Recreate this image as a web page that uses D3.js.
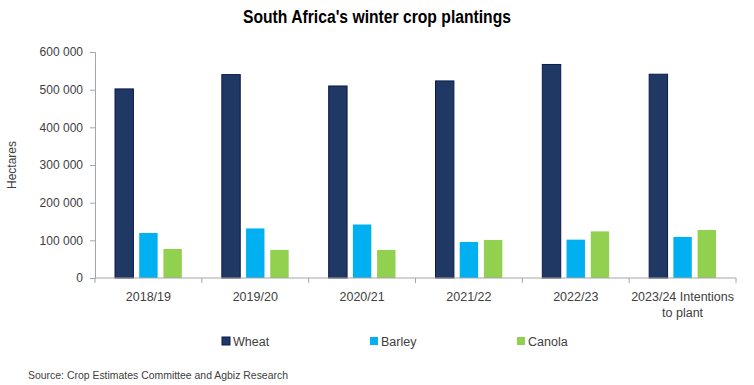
<!DOCTYPE html>
<html>
<head>
<meta charset="utf-8">
<script src="https://cdn.jsdelivr.net/npm/d3@7"></script>
<style>
  body { margin: 0; background: #fff; }
  text { font-family: "Liberation Sans", Arial, sans-serif; fill: #404040; }
</style>
</head>
<body>
<script>
// winter crop plantings, hectares
const seasons = ["2018/19", "2019/20", "2020/21", "2021/22", "2022/23", "2023/24 Intentions to plant"];
const crops = ["Wheat", "Barley", "Canola"];
const wheat = [502000, 540000, 509800, 523200, 566900, 541000];
const barley = [119500, 131600, 142000, 95700, 101800, 109000];
const canola = [77000, 74500, 74500, 101000, 123700, 127400];
const yTicks = [0, 100000, 200000, 300000, 400000, 500000, 600000];
const colors = ["#1f3864", "#00b0f0", "#92d050"];

const width = 754, height = 385;
const margin = {top: 52, right: 18, bottom: 107, left: 95};

const svg = d3.select("body").append("svg").attr("width", width).attr("height", height);

const x0 = d3.scaleBand().domain(seasons).range([margin.left, width - margin.right]);
const x1 = d3.scaleBand().domain(crops).range([20, x0.bandwidth() - 20]).paddingInner(0.24);
const y = d3.scaleLinear().domain([0, 600000]).range([height - margin.bottom, margin.top]);

const fmt = d => d3.format(",")(d).replace(/,/g, " ");

// title (narrow look)
svg.append("text")
  .attr("x", width / 2 - 134).attr("y", 23)
  .attr("textLength", 268).attr("lengthAdjust", "spacingAndGlyphs")
  .style("font-weight", "bold").style("font-size", "18px").style("fill", "#000")
  .text("South Africa's winter crop plantings");

// y axis
const yAxis = svg.append("g")
  .attr("transform", "translate(" + margin.left + ",0)")
  .call(d3.axisLeft(y).tickValues(yTicks).tickFormat(fmt).tickSize(5).tickPadding(7));
yAxis.selectAll("path, line").attr("stroke", "#a6a6a6");
yAxis.selectAll("text").style("font-size", "12px").style("fill", "#404040");

svg.append("text")
  .attr("transform", "translate(16," + (margin.top + (height - margin.bottom - margin.top) / 2) + ") rotate(-90)")
  .attr("text-anchor", "middle")
  .style("font-size", "12px")
  .text("Hectares");

// bars
const series = [wheat, barley, canola];
const groups = svg.append("g").selectAll("g")
  .data(seasons)
  .enter()
  .append("g")
  .attr("transform", d => "translate(" + x0(d) + ",0)");

groups.selectAll("rect")
  .data((d, i) => crops.map((c, j) => ({crop: c, value: series[j][i], k: j})))
  .enter()
  .append("rect")
  .attr("x", d => x1(d.crop))
  .attr("y", d => y(d.value))
  .attr("width", x1.bandwidth())
  .attr("height", d => y(0) - y(d.value))
  .attr("fill", d => colors[d.k])
  .attr("stroke", d => d.k == 0 ? "#0b1a4e" : "none")
  .attr("stroke-width", 1);

// x axis
const xAxis = svg.append("g")
  .attr("transform", "translate(0," + y(0) + ")");
xAxis.append("line")
  .attr("x1", margin.left).attr("x2", width - margin.right)
  .attr("stroke", "#a6a6a6");
const bounds = seasons.map(s => x0(s)).concat([x0(seasons[seasons.length - 1]) + x0.bandwidth()]);
xAxis.selectAll("line.tick")
  .data(bounds)
  .enter()
  .append("line")
  .attr("class", "tick")
  .attr("x1", d => d).attr("x2", d => d)
  .attr("y1", 0).attr("y2", 5)
  .attr("stroke", "#a6a6a6");

xAxis.selectAll("text")
  .data(seasons)
  .enter()
  .append("text")
  .attr("x", d => x0(d) + x0.bandwidth() / 2)
  .attr("y", 23)
  .attr("text-anchor", "middle")
  .style("font-size", "12.5px")
  .each(function(d) {
    const t = d3.select(this);
    if (d.indexOf("Intentions") > 0) {
      t.append("tspan").attr("x", x0(d) + x0.bandwidth() / 2).text("2023/24 Intentions");
      t.append("tspan").attr("x", x0(d) + x0.bandwidth() / 2).attr("dy", 16).text("to plant");
    } else {
      t.text(d);
    }
  });

// legend
const legendX = [222, 370, 517];
const legend = svg.append("g").selectAll("g")
  .data(crops)
  .enter()
  .append("g")
  .attr("transform", (d, i) => "translate(" + legendX[i] + ",341)");
legend.append("rect")
  .attr("x", 0).attr("y", -4).attr("width", 8).attr("height", 8)
  .attr("fill", (d, i) => colors[i])
  .attr("stroke", (d, i) => i == 0 ? "#0b1a4e" : "none");
legend.append("text")
  .attr("x", 11).attr("y", 4.5)
  .style("font-size", "12.5px")
  .text(d => d);

// source
svg.append("text")
  .attr("x", 28).attr("y", 379)
  .attr("textLength", 260).attr("lengthAdjust", "spacingAndGlyphs")
  .style("font-size", "11.5px")
  .text("Source: Crop Estimates Committee and Agbiz Research");
</script>
</body>
</html>
